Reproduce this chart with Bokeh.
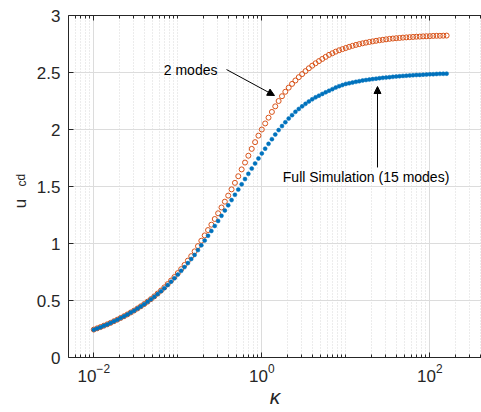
from bokeh.plotting import figure
from bokeh.models import Range1d, FixedTicker, LogAxis, Label, Arrow, NormalHead, ColumnDataSource
from bokeh.embed import file_html
from bokeh.resources import INLINE

# ---- data ----
log_kappa = [-2.00, -1.96, -1.92, -1.88, -1.84, -1.80, -1.76, -1.72, -1.68, -1.64,
             -1.60, -1.56, -1.52, -1.48, -1.44, -1.40, -1.36, -1.32, -1.28, -1.24,
             -1.20, -1.16, -1.12, -1.08, -1.04, -1.00, -0.96, -0.92, -0.88, -0.84,
             -0.80, -0.76, -0.72, -0.68, -0.64, -0.60, -0.56, -0.52, -0.48, -0.44,
             -0.40, -0.36, -0.32, -0.28, -0.24, -0.20, -0.16, -0.12, -0.08, -0.04,
             0.00, 0.04, 0.08, 0.12, 0.16, 0.20, 0.24, 0.28, 0.32, 0.36,
             0.40, 0.44, 0.48, 0.52, 0.56, 0.60, 0.64, 0.68, 0.72, 0.76,
             0.80, 0.84, 0.88, 0.92, 0.96, 1.00, 1.04, 1.08, 1.12, 1.16,
             1.20, 1.24, 1.28, 1.32, 1.36, 1.40, 1.44, 1.48, 1.52, 1.56,
             1.60, 1.64, 1.68, 1.72, 1.76, 1.80, 1.84, 1.88, 1.92, 1.96,
             2.00, 2.04, 2.08, 2.12, 2.16, 2.20]

u_2modes = [0.245, 0.256, 0.267, 0.279, 0.291, 0.304, 0.318, 0.332, 0.347, 0.362,
            0.378, 0.395, 0.412, 0.430, 0.449, 0.469, 0.490, 0.512, 0.536, 0.561,
            0.587, 0.615, 0.644, 0.675, 0.706, 0.740, 0.775, 0.812, 0.850, 0.889,
            0.931, 0.977, 1.024, 1.071, 1.118, 1.165, 1.215, 1.265, 1.316, 1.367,
            1.420, 1.475, 1.532, 1.590, 1.650, 1.710, 1.770, 1.830, 1.889, 1.946,
            2.000, 2.053, 2.104, 2.154, 2.203, 2.250, 2.292, 2.331, 2.367, 2.400,
            2.430, 2.459, 2.486, 2.512, 2.537, 2.560, 2.581, 2.600, 2.619, 2.637,
            2.655, 2.669, 2.683, 2.695, 2.705, 2.715, 2.725, 2.734, 2.742, 2.749,
            2.756, 2.762, 2.768, 2.773, 2.778, 2.783, 2.787, 2.791, 2.795, 2.798,
            2.801, 2.803, 2.806, 2.808, 2.810, 2.812, 2.814, 2.815, 2.817, 2.818,
            2.819, 2.821, 2.822, 2.822, 2.823, 2.824]

u_full = [0.244, 0.255, 0.266, 0.278, 0.290, 0.303, 0.317, 0.331, 0.346, 0.361,
          0.377, 0.394, 0.411, 0.429, 0.448, 0.467, 0.488, 0.510, 0.533, 0.557,
          0.582, 0.608, 0.636, 0.665, 0.695, 0.727, 0.760, 0.793, 0.828, 0.864,
          0.900, 0.942, 0.984, 1.026, 1.068, 1.110, 1.154, 1.198, 1.243, 1.289,
          1.335, 1.381, 1.427, 1.473, 1.519, 1.565, 1.611, 1.657, 1.702, 1.746,
          1.790, 1.832, 1.874, 1.915, 1.956, 1.995, 2.030, 2.064, 2.096, 2.126,
          2.155, 2.180, 2.203, 2.225, 2.246, 2.265, 2.282, 2.297, 2.312, 2.326,
          2.340, 2.354, 2.368, 2.380, 2.390, 2.400, 2.406, 2.412, 2.418, 2.424,
          2.430, 2.434, 2.438, 2.442, 2.446, 2.450, 2.453, 2.456, 2.459, 2.462,
          2.465, 2.467, 2.470, 2.472, 2.474, 2.476, 2.478, 2.479, 2.481, 2.482,
          2.484, 2.485, 2.487, 2.488, 2.489, 2.490]

xticks = [1e-2, 1e0, 1e2]
yticks = [0, 0.5, 1, 1.5, 2, 2.5, 3]
ytick_labels = ["0", "0.5", "1", "1.5", "2", "2.5", "3"]
x_minor = [k * 10.0 ** d for d in range(-3, 3) for k in range(1, 10)]

kappa = [10.0 ** v for v in log_kappa]
src = ColumnDataSource(data=dict(kappa=kappa, u2=u_2modes, uf=u_full))

FONT = "Liberation Sans"
AX = "#262626"
ORANGE = "#D95319"
BLUE = "#0072BD"

x_lo, x_hi = 10 ** -2.301, 10 ** 2.615

p = figure(width=481, height=412, x_axis_type="log",
           x_range=Range1d(x_lo, x_hi), y_range=Range1d(0, 3),
           output_backend="svg", toolbar_location=None,
           min_border_left=68, min_border_right=0, min_border_top=15, min_border_bottom=55)
p.outline_line_color = None
p.background_fill_color = "white"
p.border_fill_color = "white"

xt = FixedTicker(ticks=xticks, minor_ticks=x_minor)
p.xaxis.ticker = xt
p.yaxis.ticker = FixedTicker(ticks=yticks, minor_ticks=[])
p.yaxis.major_label_overrides = {float(t): s for t, s in zip(yticks, ytick_labels)}

for ax in (p.xaxis[0], p.yaxis[0]):
    ax.axis_line_color = AX
    ax.major_tick_line_color = AX
    ax.minor_tick_line_color = AX
    ax.major_tick_in = 5
    ax.major_tick_out = 0
    ax.minor_tick_in = 3
    ax.minor_tick_out = 0
    ax.major_label_text_font = FONT
    ax.major_label_text_font_size = "17px"
    ax.major_label_text_color = AX
p.yaxis.minor_tick_line_color = None
p.yaxis.major_label_standoff = 8
p.xaxis.major_label_standoff = 6
p.xaxis.major_label_text_line_height = 1.0
p.xaxis.axis_label = "κ"
p.xaxis.axis_label_text_font = FONT
p.xaxis.axis_label_text_font_style = "italic"
p.xaxis.axis_label_text_font_size = "21px"
p.xaxis.axis_label_text_line_height = 0.8
p.xaxis.axis_label_text_color = AX
p.xaxis.axis_label_standoff = 0

top = LogAxis(ticker=xt, major_label_text_font_size="1px", major_label_text_color=None,
              major_label_standoff=0,
              axis_line_color=AX, major_tick_line_color=AX, minor_tick_line_color=AX,
              major_tick_in=5, major_tick_out=0, minor_tick_in=3, minor_tick_out=0)
p.add_layout(top, "above")

p.xgrid.grid_line_color = "#dcdcdc"
p.xgrid.minor_grid_line_color = "#d8d8d8"
p.xgrid.minor_grid_line_dash = "1 2"
p.ygrid.grid_line_color = "#dcdcdc"

p.scatter("kappa", "u2", source=src, marker="circle", size=5, fill_color=None,
          line_color=ORANGE, line_width=1)
p.scatter("kappa", "uf", source=src, marker="circle", size=4, fill_color=BLUE,
          line_color=BLUE, line_width=0.5)

# y-axis label u_cd, placed in the left side panel so it is not clipped to the frame
p.add_layout(Label(x=x_lo, y=1.351, x_offset=-48, text="u", angle=1.5708,
                   text_align="center", text_baseline="alphabetic",
                   text_font=FONT, text_font_size="17px", text_color=AX), "left")
p.add_layout(Label(x=x_lo, y=1.50, x_offset=-47, text="cd", angle=1.5708,
                   text_align="left", text_baseline="alphabetic",
                   text_font=FONT, text_font_size="12px", text_color=AX), "left")

# annotations
p.add_layout(Label(x=10 ** -1.167, y=2.526, text="2 modes", text_align="left",
                   text_baseline="middle", text_font=FONT, text_font_size="14px",
                   text_color="black"))
p.add_layout(Arrow(end=NormalHead(size=7, fill_color="black", line_color="black"),
                   x_start=10 ** -0.420, y_start=2.526, x_end=10 ** 0.151, y_end=2.298,
                   line_color="black", line_width=1))
p.add_layout(Label(x=10 ** 0.25, y=1.582, text="Full Simulation (15 modes)", text_align="left",
                   text_baseline="middle", text_font=FONT, text_font_size="14px",
                   text_color="black"))
p.add_layout(Arrow(end=NormalHead(size=7, fill_color="black", line_color="black"),
                   x_start=10 ** 1.377, y_start=1.667, x_end=10 ** 1.377, y_end=2.377,
                   line_color="black", line_width=1))

open("out.html", "w").write(file_html(p, INLINE))
